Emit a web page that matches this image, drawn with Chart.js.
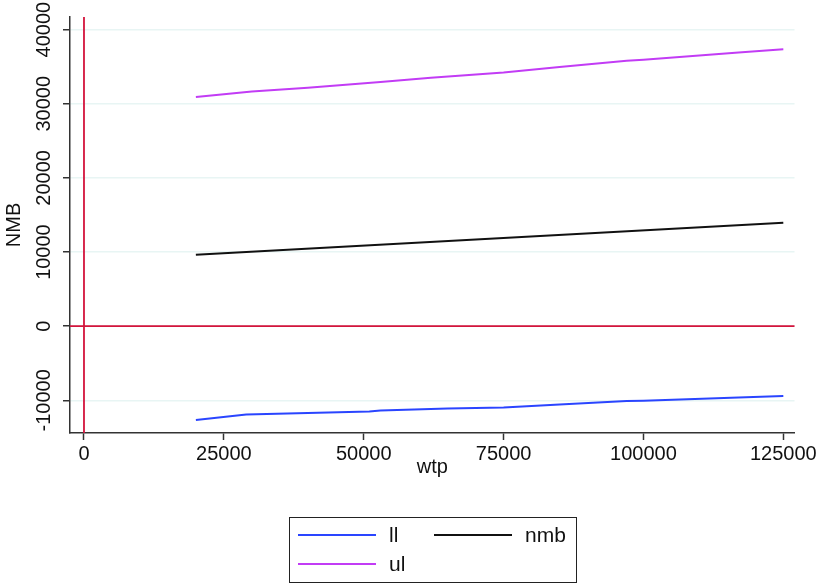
<!DOCTYPE html>
<html>
<head>
<meta charset="utf-8">
<script src="https://cdn.jsdelivr.net/npm/chart.js@4"></script>
<style>
  html, body { margin: 0; padding: 0; background: #fff; }
  #wrap { width: 819px; height: 584px; }
</style>
</head>
<body>
<div id="wrap"><canvas id="c" width="819" height="584"></canvas></div>
<script>
// ── Data ─────────────────────────────────────────────────────────────────────
const wtpLL = [20000, 29000, 40000, 51000, 53000, 65000, 75000, 85000, 97000, 100000, 117000, 125000];
const llVals = [-12660, -11890, -11700, -11490, -11380, -11100, -10950, -10550, -10100, -10050, -9600, -9420];

const wtpNMB = [20000, 125000];
const nmbVals = [9640, 13960];

const wtpUL = [20000, 30000, 40000, 53000, 62000, 75000, 85000, 97000, 100000, 117000, 125000];
const ulVals = [30900, 31650, 32150, 32930, 33500, 34200, 34950, 35810, 35950, 36900, 37340];

const xTicks = [0, 25000, 50000, 75000, 100000, 125000];
const yTicks = [-10000, 0, 10000, 20000, 30000, 40000];

const FONT = "'Liberation Sans', Arial, sans-serif";
const FSIZE = 20;
const AXIS = "#333333";

function pts(xs, ys) { return xs.map((x, i) => ({ x, y: ys[i] })); }

// ── Plugins ──────────────────────────────────────────────────────────────────
// red reference lines at x = 0 and y = 0
const refLines = {
  id: "refLines",
  beforeDatasetsDraw(chart) {
    const { ctx, chartArea: a, scales: { x, y } } = chart;
    const px = x.getPixelForValue(0), py = y.getPixelForValue(0);
    ctx.save();
    ctx.strokeStyle = "#d4143c";
    ctx.lineWidth = 1.8;
    ctx.beginPath();
    ctx.moveTo(px, a.top); ctx.lineTo(px, a.bottom);
    ctx.moveTo(a.left, py); ctx.lineTo(a.right, py);
    ctx.stroke();
    ctx.restore();
  }
};

// vertical (Stata-style) y tick labels
const yLabels = {
  id: "yLabels",
  afterDraw(chart) {
    const { ctx, scales: { y } } = chart;
    ctx.save();
    ctx.font = FSIZE + "px " + FONT;
    ctx.fillStyle = "#111";
    ctx.textAlign = "center";
    ctx.textBaseline = "middle";
    y.ticks.forEach(t => {
      ctx.save();
      ctx.translate(44, y.getPixelForValue(t.value));
      ctx.rotate(-Math.PI / 2);
      ctx.fillText(String(t.value), 0, 0);
      ctx.restore();
    });
    ctx.restore();
  }
};

const boxLegend = {
  id: "boxLegend",
  afterDraw(chart) {
    const ctx = chart.ctx;
    const ds = chart.data.datasets;
    ctx.save();
    ctx.strokeStyle = "#222";
    ctx.lineWidth = 1;
    ctx.strokeRect(289.5, 517.5, 287, 65);
    const cols = [298, 434], rows = [535, 564];
    ctx.font = "21px " + FONT;
    ctx.textBaseline = "middle";
    ds.forEach((d, i) => {
      const cx = cols[i % 2], cy = rows[Math.floor(i / 2)];
      ctx.strokeStyle = d.borderColor;
      ctx.lineWidth = 2;
      ctx.beginPath(); ctx.moveTo(cx, cy); ctx.lineTo(cx + 78, cy); ctx.stroke();
      ctx.fillStyle = "#111";
      ctx.fillText(d.label, cx + 91, cy + 1);
    });
    ctx.restore();
  }
};

// ── Chart ────────────────────────────────────────────────────────────────────
new Chart(document.getElementById("c"), {
  type: "line",
  data: {
    datasets: [
      { label: "ll",  data: pts(wtpLL, llVals),   borderColor: "#2a45ff" },
      { label: "nmb", data: pts(wtpNMB, nmbVals), borderColor: "#111111" },
      { label: "ul",  data: pts(wtpUL, ulVals),   borderColor: "#c23cf5" },
    ],
  },
  options: {
    responsive: false,
    animation: false,
    events: [],
    elements: { point: { radius: 0 }, line: { borderWidth: 2, tension: 0 } },
    layout: { padding: { top: 17, right: 20, bottom: 105, left: 0 } },
    plugins: { legend: { display: false }, tooltip: { enabled: false } },
    scales: {
      x: {
        type: "linear",
        min: -2500, max: 127000,
        afterBuildTicks: s => { s.ticks = xTicks.map(v => ({ value: v })); },
        afterFit: s => { s.height = 46; },
        ticks: { color: "#111", font: { family: FONT, size: FSIZE }, padding: 2, maxRotation: 0,
                 callback: v => String(v) },
        grid: { drawOnChartArea: false, tickLength: 7, tickColor: AXIS, tickWidth: 1.5 },
        border: { color: AXIS, width: 1.5 },
        title: { display: true, text: "wtp", color: "#111", font: { family: FONT, size: FSIZE }, padding: 0 },
      },
      y: {
        min: -14400, max: 41700,
        afterBuildTicks: s => { s.ticks = yTicks.map(v => ({ value: v })); },
        afterFit: s => { s.width = 70; },
        ticks: { display: false },
        grid: { color: "#e8f5f4", lineWidth: 1.5, tickLength: 7, tickColor: AXIS, tickWidth: 1.5 },
        border: { color: AXIS, width: 1.5 },
        title: { display: true, text: "NMB", color: "#111", font: { family: FONT, size: FSIZE }, padding: 2 },
      },
    },
  },
  plugins: [refLines, yLabels, boxLegend],
});
</script>
</body>
</html>
